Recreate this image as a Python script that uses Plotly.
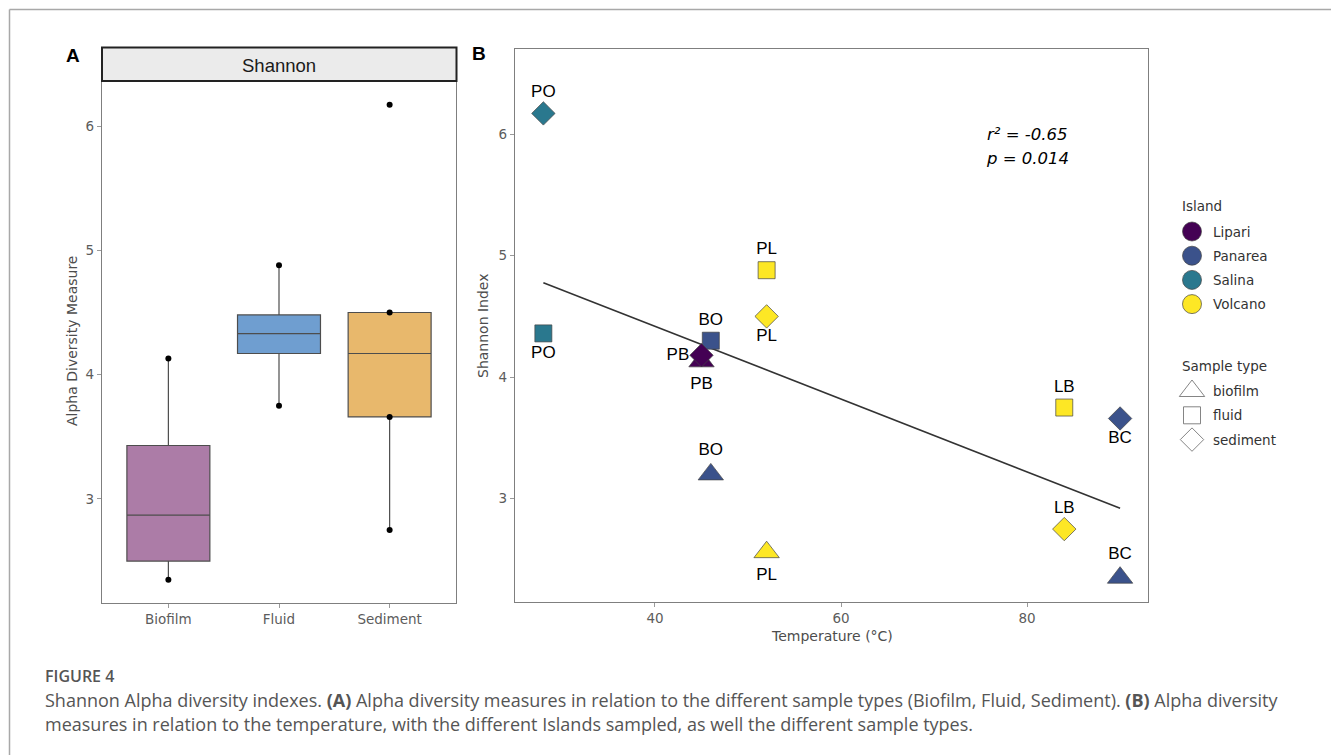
import numpy as np
import plotly.graph_objects as go

W, H = 1331, 755

# ---------------- Panel A data (box summary) ----------------
sample_types = ["Biofilm", "Fluid", "Sediment"]
box_q1 = [2.50, 4.17, 3.66]
box_median = [2.87, 4.33, 4.17]
box_q3 = [3.43, 4.48, 4.50]
box_lower = [2.35, 3.75, 2.75]
box_upper = [4.13, 4.88, 4.50]
box_colors = ["#AC7CA7", "#6F9ED0", "#E8B86C"]
dot_types = ["Biofilm", "Biofilm", "Fluid", "Fluid", "Sediment", "Sediment", "Sediment", "Sediment"]
dot_values = [4.13, 2.35, 4.88, 3.75, 6.17, 4.50, 3.66, 2.75]

# ---------------- Panel B data ----------------
site = ["PO", "PO", "BO", "PB", "PB", "PL", "PL", "BO", "PL", "LB", "BC", "LB", "BC"]
island = ["Salina", "Salina", "Panarea", "Lipari", "Lipari", "Volcano", "Volcano",
          "Panarea", "Volcano", "Volcano", "Panarea", "Volcano", "Panarea"]
stype = ["sediment", "fluid", "fluid", "biofilm", "sediment", "fluid", "sediment",
         "biofilm", "biofilm", "fluid", "sediment", "sediment", "biofilm"]
temperature = [28, 28, 46, 45, 45, 52, 52, 46, 52, 84, 90, 84, 90]
shannon = [6.17, 4.36, 4.30, 4.13, 4.18, 4.88, 4.50, 3.20, 2.56, 3.75, 3.66, 2.75, 2.35]
stat_r2 = "-0.65"
stat_p = "0.014"

islands = ["Lipari", "Panarea", "Salina", "Volcano"]
island_colors = {"Lipari": "#440154", "Panarea": "#3B528B", "Salina": "#2A788E", "Volcano": "#FDE725"}
types = ["biofilm", "fluid", "sediment"]
type_symbols = {"biofilm": "triangle-up", "fluid": "square", "sediment": "diamond"}
type_sizes = {"biofilm": 22, "fluid": 17, "sediment": 18}
label_pos = ["top center", "bottom center", "top center", "bottom center", "middle left",
             "top center", "bottom center", "top center", "bottom center", "top center",
             "bottom center", "top center", "top center"]

THEME_FONT = "DejaVu Sans"
GEOM_FONT = "Liberation Sans"
TICK_COL = "#5c5c5c"
TITLE_COL = "#4d4d4d"
FRAME_COL = "#7f7f7f"


def px(x):
    return x / W


def py(y):
    return 1 - y / H


fig = go.Figure()

# Panel A boxes
for i, t in enumerate(sample_types):
    fig.add_trace(go.Box(
        x=[t], q1=[box_q1[i]], median=[box_median[i]], q3=[box_q3[i]],
        lowerfence=[box_lower[i]], upperfence=[box_upper[i]],
        fillcolor=box_colors[i], line=dict(color="#4d4d4d", width=1.2),
        width=0.75, boxpoints=False, whiskerwidth=0,
        xaxis="x", yaxis="y", showlegend=False, hoverinfo="skip"))

fig.add_trace(go.Scatter(
    x=dot_types, y=dot_values, mode="markers",
    marker=dict(color="black", size=6, opacity=1), xaxis="x", yaxis="y",
    showlegend=False, hoverinfo="skip"))

# Panel B regression line
coef = np.polyfit(temperature, shannon, 1)
xl = np.array([min(temperature), max(temperature)])
fig.add_trace(go.Scatter(
    x=xl, y=np.polyval(coef, xl), mode="lines",
    line=dict(color="#333333", width=1.6), xaxis="x2", yaxis="y2",
    showlegend=False, hoverinfo="skip"))

# Panel B points
fig.add_trace(go.Scatter(
    x=temperature, y=shannon, mode="markers+text", text=site,
    textposition=label_pos,
    textfont=dict(family=GEOM_FONT, size=17, color="black"),
    marker=dict(color=[island_colors[i] for i in island],
                symbol=[type_symbols[t] for t in stype],
                size=[type_sizes[t] for t in stype], opacity=1,
                line=dict(color="#444444", width=0.7)),
    cliponaxis=False, xaxis="x2", yaxis="y2", showlegend=False, hoverinfo="skip"))

# Custom legend (hidden axes in pixel units)
leg_x = 1192
fig.add_trace(go.Scatter(
    x=[leg_x] * len(islands), y=[231.5 + 24.2 * k for k in range(len(islands))],
    mode="markers",
    marker=dict(color=[island_colors[i] for i in islands], size=19, symbol="circle",
                opacity=1, line=dict(color="#444444", width=0.7)),
    xaxis="x3", yaxis="y3", showlegend=False, hoverinfo="skip"))
fig.add_trace(go.Scatter(
    x=[leg_x] * len(types), y=[391 + 24.3 * k for k in range(len(types))],
    mode="markers",
    marker=dict(color="white", size=[type_sizes[t] for t in types],
                symbol=[type_symbols[t] for t in types], opacity=1,
                line=dict(color="#666666", width=0.8)),
    xaxis="x3", yaxis="y3", showlegend=False, hoverinfo="skip"))

ann = []
LEG_FONT = dict(family=THEME_FONT, size=13.5, color="#333333")
for k, name in enumerate(islands):
    ann.append(dict(x=1211, y=231.5 + 24.2 * k, xref="x3", yref="y3", text=name,
                    showarrow=False, xanchor="left", yanchor="middle", font=LEG_FONT))
for k, name in enumerate(types):
    ann.append(dict(x=1211, y=391 + 24.3 * k, xref="x3", yref="y3", text=name,
                    showarrow=False, xanchor="left", yanchor="middle", font=LEG_FONT))
ann.append(dict(x=1180, y=206, xref="x3", yref="y3", text="Island", showarrow=False,
                xanchor="left", yanchor="middle", font=LEG_FONT))
ann.append(dict(x=1180, y=366, xref="x3", yref="y3", text="Sample type", showarrow=False,
                xanchor="left", yanchor="middle", font=LEG_FONT))

# Stats annotation
ann.append(dict(x=80, y=6.0, xref="x2", yref="y2", text="<i>r² = " + stat_r2 + "</i>",
                showarrow=False, xanchor="center", yanchor="middle",
                font=dict(family=THEME_FONT, size=16.5, color="black")))
ann.append(dict(x=80, y=5.8, xref="x2", yref="y2", text="<i>p = " + stat_p + "</i>",
                showarrow=False, xanchor="center", yanchor="middle",
                font=dict(family=THEME_FONT, size=16.5, color="black")))

# Axis titles
ann.append(dict(x=px(72), y=py(341), xref="paper", yref="paper", text="Alpha Diversity Measure",
                textangle=-90, showarrow=False, xanchor="center", yanchor="middle",
                font=dict(family=THEME_FONT, size=14, color=TITLE_COL)))
ann.append(dict(x=px(483), y=py(326), xref="paper", yref="paper", text="Shannon Index",
                textangle=-90, showarrow=False, xanchor="center", yanchor="middle",
                font=dict(family=THEME_FONT, size=14, color=TITLE_COL)))
ann.append(dict(x=px(832), y=py(636), xref="paper", yref="paper", text="Temperature (°C)",
                showarrow=False, xanchor="center", yanchor="middle",
                font=dict(family=THEME_FONT, size=14, color=TITLE_COL)))

# Strip + panel letters
ann.append(dict(x=px(279), y=py(65), xref="paper", yref="paper", text="Shannon",
                showarrow=False, xanchor="center", yanchor="middle",
                font=dict(family=GEOM_FONT, size=18.5, color="#1a1a1a")))
ann.append(dict(x=px(73), y=py(55), xref="paper", yref="paper", text="<b>A</b>",
                showarrow=False, xanchor="center", yanchor="middle",
                font=dict(family=GEOM_FONT, size=19, color="black")))
ann.append(dict(x=px(479), y=py(53), xref="paper", yref="paper", text="<b>B</b>",
                showarrow=False, xanchor="center", yanchor="middle",
                font=dict(family=GEOM_FONT, size=19, color="black")))

# Caption
CAP_FONT = "Open Sans"
ann.append(dict(x=px(43), y=py(676), xref="paper", yref="paper", text="FIGURE 4",
                showarrow=False, xanchor="left", yanchor="middle",
                font=dict(family=CAP_FONT, size=16, color="#555555", weight=600)))
ann.append(dict(x=px(43), y=py(700), xref="paper", yref="paper",
                text="Shannon Alpha diversity indexes. <b>(A)</b> Alpha diversity measures in relation to the different sample types (Biofilm, Fluid, Sediment). <b>(B)</b> Alpha diversity",
                showarrow=False, xanchor="left", yanchor="middle",
                font=dict(family=CAP_FONT, size=18, color="#555555")))
ann.append(dict(x=px(43), y=py(724), xref="paper", yref="paper",
                text="measures in relation to the temperature, with the different Islands sampled, as well the different sample types.",
                showarrow=False, xanchor="left", yanchor="middle",
                font=dict(family=CAP_FONT, size=18, color="#555555")))

shapes = [
    dict(type="rect", xref="paper", yref="paper", x0=px(102), x1=px(456.5), y0=py(81), y1=py(47.5),
         fillcolor="#EBEBEB", line=dict(color="#222222", width=2)),
    dict(type="line", xref="paper", yref="paper", x0=px(9.5), x1=1, y0=py(9.5), y1=py(9.5),
         line=dict(color="#a8a8a8", width=1.5)),
    dict(type="line", xref="paper", yref="paper", x0=px(9.5), x1=px(9.5), y0=py(9.5), y1=0,
         line=dict(color="#a8a8a8", width=1.5)),
]

axis_common = dict(showline=True, mirror=True, linecolor=FRAME_COL, linewidth=1.3,
                   ticks="outside", ticklen=4, tickcolor="#9a9a9a", tickwidth=1,
                   showgrid=False, zeroline=False, automargin=False,
                   tickfont=dict(family=THEME_FONT, size=13.5, color=TICK_COL))

fig.update_layout(
    width=W, height=H, margin=dict(l=0, r=0, t=0, b=0),
    paper_bgcolor="white", plot_bgcolor="white",
    boxmode="overlay", showlegend=False,
    xaxis=dict(domain=[px(102), px(456)], anchor="y", type="category",
               categoryorder="array", categoryarray=sample_types, range=[-0.6, 2.6],
               **axis_common),
    yaxis=dict(domain=[py(603), py(81)], anchor="x", range=[2.163, 6.362],
               tickvals=[3, 4, 5, 6], **axis_common),
    xaxis2=dict(domain=[px(515), px(1148)], anchor="y2", range=[24.95, 93.0],
                tickvals=[40, 60, 80], **axis_common),
    yaxis2=dict(domain=[py(602), py(49)], anchor="x2", range=[2.15, 6.70],
                tickvals=[3, 4, 5, 6], **axis_common),
    xaxis3=dict(domain=[px(1160), 1], anchor="y3", range=[1160, 1331], visible=False,
                fixedrange=True),
    yaxis3=dict(domain=[0, 1], anchor="x3", range=[755, 0], visible=False, fixedrange=True),
    annotations=ann, shapes=shapes,
)

fig.write_html("out.html")
